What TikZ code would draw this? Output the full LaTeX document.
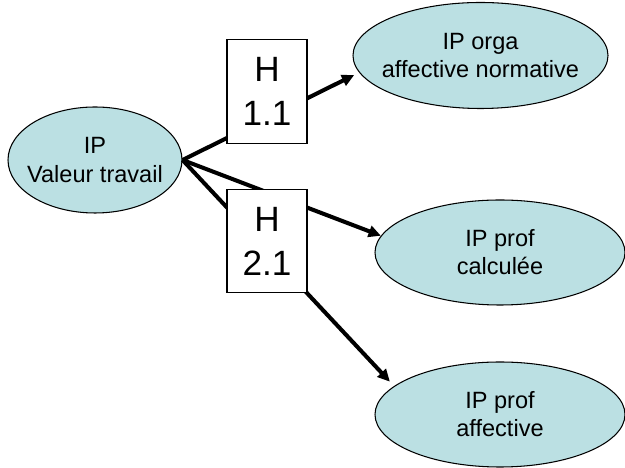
\documentclass[tikz,border=0pt]{standalone}
\usepackage{fontspec}
\setmainfont{Liberation Sans}
\usepackage{xcolor}
\definecolor{ipTeal}{HTML}{BBE0E3}
\usepackage{tikz}
\usetikzlibrary{arrows.meta,shapes.geometric}

\begin{document}
\begin{tikzpicture}[>={Triangle[length=7pt,width=6.5pt]},
  ipnode/.style={ellipse,draw=black,line width=0.6pt,fill=ipTeal,inner xsep=-1cm,inner ysep=0pt,align=center,font=\fontsize{13.4}{16}\selectfont},
  hypbox/.style={draw=black,line width=0.6pt,fill=white,inner sep=0pt,minimum width=1.6cm,minimum height=2.07cm,align=center,font=\fontsize{20}{25}\selectfont},
  link/.style={->,line width=2.3pt}]
  \path[use as bounding box] (0,0) rectangle (12.5,9.36);

  % variables
  \node[ipnode,minimum width=3.48cm,minimum height=2.12cm] (val) at (1.9,6.16) {IP\\Valeur travail};
  \node[ipnode,minimum width=5.1cm,minimum height=2.12cm] (orga) at (9.61,8.25) {IP orga\\affective normative};
  \node[ipnode,minimum width=5.0cm,minimum height=2.1cm] (calc) at (10.0,4.31) {IP prof\\calculée};
  \node[ipnode,minimum width=5.0cm,minimum height=2.1cm] (affe) at (10.0,1.07) {IP prof\\affective};

  % links
  \draw[link,shorten >=0.11cm] (val.east) -- (orga.188);
  \draw[link] (val.east) -- (calc.172);
  \draw[link,shorten >=0.12cm] (val.east) -- (affe.165);

  % hypotheses
  \node[hypbox] (h11) at (5.34,7.53) {H\\1.1};
  \node[hypbox] (h21) at (5.34,4.54) {H\\2.1};
\end{tikzpicture}
\end{document}
